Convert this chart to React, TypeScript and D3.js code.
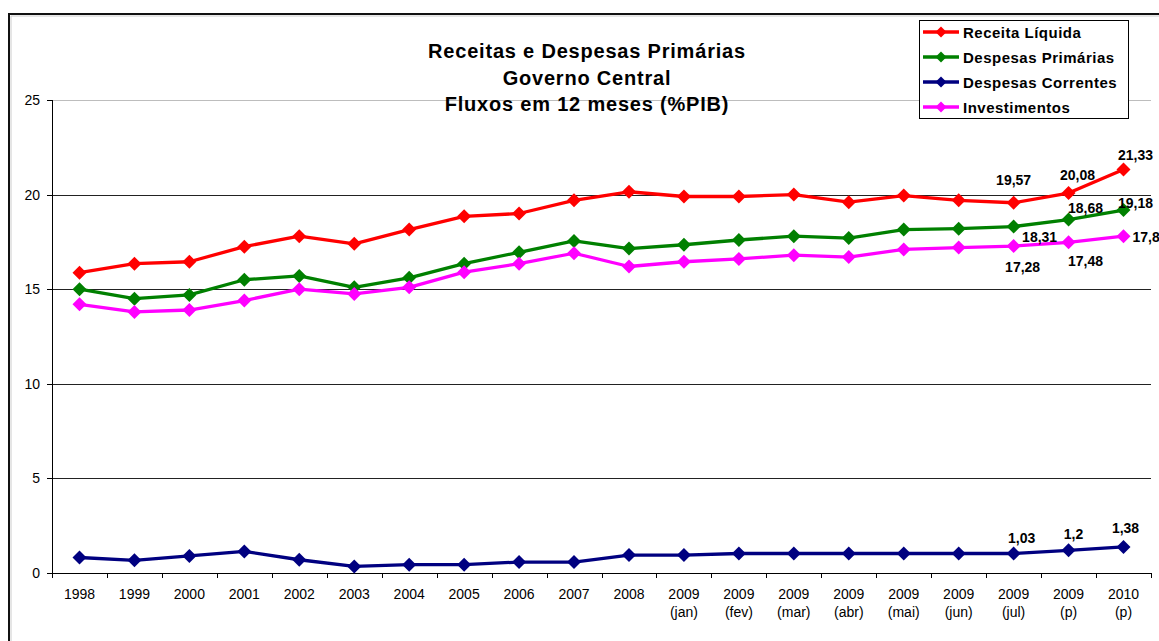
import React from "react";
import * as d3 from "d3";

const years = ["1998","1999","2000","2001","2002","2003","2004","2005","2006","2007","2008","2009","2009","2009","2009","2009","2009","2009","2009","2010"];
const subLabels = ["","","","","","","","","","","","(jan)","(fev)","(mar)","(abr)","(mai)","(jun)","(jul)","(p)","(p)"];

const receitaLiquida = [15.87,16.35,16.45,17.25,17.8,17.4,18.15,18.85,19.0,19.7,20.15,19.9,19.9,20.0,19.6,19.95,19.7,19.57,20.08,21.33];
const despesasPrimarias = [15.0,14.5,14.7,15.5,15.7,15.1,15.6,16.35,16.95,17.55,17.15,17.35,17.6,17.8,17.7,18.15,18.2,18.31,18.68,19.18];
const despesasCorrentes = [0.82,0.67,0.9,1.14,0.7,0.35,0.44,0.44,0.58,0.58,0.95,0.95,1.03,1.03,1.03,1.03,1.03,1.03,1.2,1.38];
const investimentos = [14.2,13.8,13.9,14.4,15.0,14.75,15.1,15.9,16.35,16.9,16.2,16.45,16.6,16.8,16.7,17.1,17.2,17.28,17.48,17.8];

const yTicks = [0,5,10,15,20,25];
const titleLines = ["Receitas e Despesas Primárias","Governo Central","Fluxos em 12 meses (%PIB)"];

const series = [
  { name: "Receita Líquida", values: receitaLiquida, color: "#ff0000" },
  { name: "Despesas Primárias", values: despesasPrimarias, color: "#008000" },
  { name: "Despesas Correntes", values: despesasCorrentes, color: "#000080" },
  { name: "Investimentos", values: investimentos, color: "#ff00ff" },
];

// label placement: series index, point index, offsets
const labelPlacement = [
  { s: 0, i: 17, dx: 0, dy: -18, anchor: "middle" },
  { s: 0, i: 18, dx: 9, dy: -13, anchor: "middle" },
  { s: 0, i: 19, dx: 12, dy: -9, anchor: "middle" },
  { s: 1, i: 17, dx: 26, dy: 15, anchor: "middle" },
  { s: 1, i: 18, dx: 17, dy: -7, anchor: "middle" },
  { s: 1, i: 19, dx: 12, dy: -2, anchor: "middle" },
  { s: 3, i: 17, dx: 9, dy: 26, anchor: "middle" },
  { s: 3, i: 18, dx: 17, dy: 24, anchor: "middle" },
  { s: 3, i: 19, dx: 9, dy: 6, anchor: "start" },
  { s: 2, i: 17, dx: 8, dy: -11, anchor: "middle" },
  { s: 2, i: 18, dx: 5, dy: -11, anchor: "middle" },
  { s: 2, i: 19, dx: 2, dy: -14, anchor: "middle" },
];

const FONT = "'Liberation Sans', Arial, Helvetica, sans-serif";

const diamond = (cx: number, cy: number, r: number) =>
  `M${cx},${cy - r}L${cx + r},${cy}L${cx},${cy + r}L${cx - r},${cy}Z`;

export default function App() {
  const W = 1159, H = 641;
  const left = 52, right = 1151, top = 100, bottom = 573;
  const idx = years.map((_, i) => i);
  const x = d3.scaleBand<number>().domain(idx).range([left, right]);
  const y = d3.scaleLinear().domain([0, 25]).range([bottom, top]);
  const cx = (i: number) => (x(i) as number) + x.bandwidth() / 2;
  const line = d3.line<number>().x((_, i) => cx(i)).y((d) => y(d));
  const fmt = (v: number) => String(v).replace(".", ",");

  return (
    <svg width={W} height={H} style={{ position: "absolute", left: 0, top: 0, background: "#fff" }} fontFamily={FONT}>
      <rect x={0} y={0} width={W} height={H} fill="#fff" />
      {/* outer frame */}
      <path d={`M9,${H}V14H${W}`} fill="none" stroke="#111" strokeWidth={2} />
      <path d={`M11,${H}V16H${W}`} fill="none" stroke="#ccc" strokeWidth={1} />

      {/* gridlines */}
      {yTicks.filter((t) => t > 0).map((t) => (
        <line key={t} x1={left} x2={right} y1={Math.round(y(t)) + 0.5} y2={Math.round(y(t)) + 0.5}
          stroke={t === 25 ? "#bdbdbd" : "#222"} strokeWidth={1} />
      ))}

      {/* title */}
      {titleLines.map((t, i) => (
        <text key={i} x={587} y={58 + i * 26.5} textAnchor="middle" fontSize={20} fontWeight="bold" letterSpacing={0.8} fill="#000">{t}</text>
      ))}

      {/* y axis */}
      <line x1={left + 0.5} x2={left + 0.5} y1={top} y2={bottom} stroke="#000" />
      {yTicks.map((t) => (
        <g key={t}>
          <line x1={left - 5} x2={left} y1={Math.round(y(t)) + 0.5} y2={Math.round(y(t)) + 0.5} stroke="#000" />
          <text x={40} y={y(t) + 5} textAnchor="end" fontSize={14} fill="#000">{t}</text>
        </g>
      ))}

      {/* x axis */}
      <line x1={left} x2={right} y1={bottom + 0.5} y2={bottom + 0.5} stroke="#000" />
      {[...idx, idx.length].map((i) => {
        const xx = Math.round(i < idx.length ? (x(i) as number) : right) + 0.5;
        return <line key={i} x1={xx} x2={xx} y1={bottom} y2={bottom + 5} stroke="#000" />;
      })}
      {idx.map((i) => (
        <g key={i}>
          <text x={cx(i)} y={599} textAnchor="middle" fontSize={14} fill="#000">{years[i]}</text>
          {subLabels[i] && (
            <text x={cx(i)} y={617} textAnchor="middle" fontSize={14} fill="#000">{subLabels[i]}</text>
          )}
        </g>
      ))}

      {/* series */}
      {series.map((s) => (
        <g key={s.name}>
          <path d={line(s.values) || ""} fill="none" stroke={s.color} strokeWidth={3.3} strokeLinejoin="round" />
          {s.values.map((v, i) => (
            <path key={i} d={diamond(cx(i), y(v), 7)} fill={s.color} />
          ))}
        </g>
      ))}

      {/* data labels */}
      {labelPlacement.map((l, k) => {
        const v = series[l.s].values[l.i];
        return (
          <text key={k} x={cx(l.i) + l.dx} y={y(v) + l.dy} textAnchor={l.anchor as any} fontSize={14} fontWeight="bold" fill="#000">{fmt(v)}</text>
        );
      })}

      {/* legend */}
      <rect x={919.5} y={20.5} width={209} height={98} fill="#fff" stroke="#000" strokeWidth={1} />
      {series.map((s, i) => {
        const ly = 32 + i * 25;
        return (
          <g key={s.name}>
            <line x1={923} x2={959} y1={ly} y2={ly} stroke={s.color} strokeWidth={3.3} />
            <path d={diamond(941, ly, 5.5)} fill={s.color} />
            <text x={963} y={ly + 5.5} fontSize={15} fontWeight="bold" letterSpacing={0.5} fill="#000">{s.name}</text>
          </g>
        );
      })}
    </svg>
  );
}
